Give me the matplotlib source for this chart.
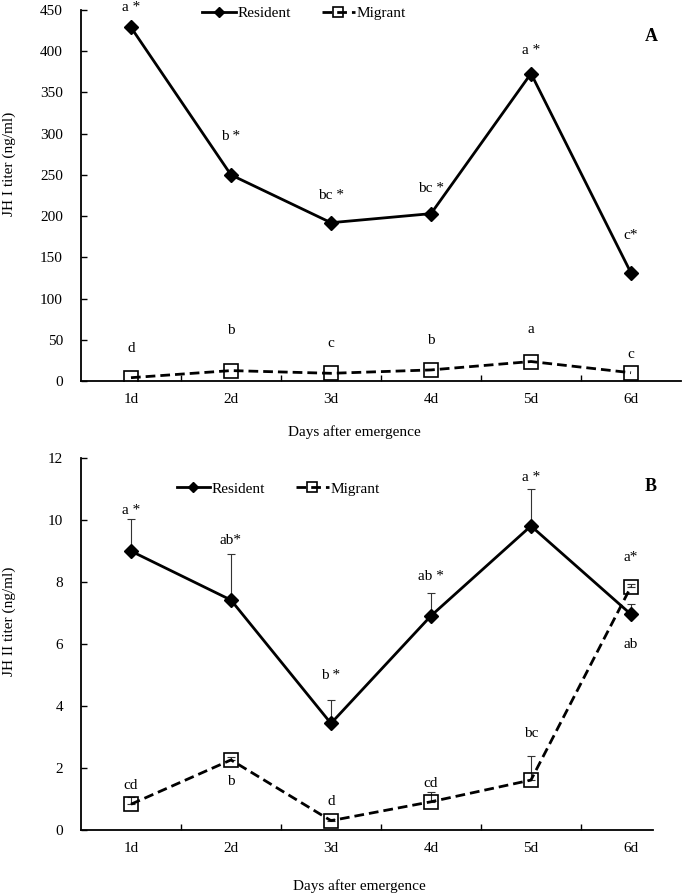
import numpy as np
from matplotlib import pyplot as plt
from matplotlib.ticker import FixedLocator

plt.rcParams["font.family"] = ["Liberation Serif", "DejaVu Serif"]
plt.rcParams["font.size"] = 11

days = ["1d", "2d", "3d", "4d", "5d", "6d"]

# panel A: JH I titer
jh1_resident = [429, 250, 192, 203, 373, 131]
jh1_migrant = [4, 12.6, 9.3, 13.4, 23.6, 10]
jh1_res_letters = ["a *", "b *", "bc *", "bc *", "a *", "c*"]
jh1_res_letter_y = [453, 296, 225, 233, 401, 177]
jh1_mig_letters = ["d", "b", "c", "b", "a", "c"]
jh1_mig_letter_y = [40, 61, 45, 49, 62, 32]

# panel B: JH II titer
jh2_resident = [9.0, 7.42, 3.44, 6.91, 9.81, 6.96]
jh2_resident_se = [1.03, 1.48, 0.75, 0.73, 1.19, 0.33]
jh2_migrant = [0.83, 2.26, 0.30, 0.91, 1.61, 7.85]
jh2_migrant_se = [0.22, 0.10, 0.05, 0.31, 0.78, 0.10]
jh2_res_letters = ["a *", "ab*", "b *", "ab *", "a *", "ab"]
jh2_res_letter_y = [10.3, 9.33, 5.0, 8.17, 11.38, 5.99]
jh2_mig_letters = ["cd", "b", "d", "cd", "bc", "a*"]
jh2_mig_letter_y = [1.42, 1.58, 0.91, 1.5, 3.1, 8.78]


def style_axis(ax, ymax, ystep, xmax):
    x = np.arange(1, len(days) + 1)
    ax.set_xlim(0.5, xmax)
    ax.set_ylim(0, ymax)
    ax.set_xticks(x)
    ax.set_xticklabels(days)
    ax.xaxis.set_minor_locator(FixedLocator(np.arange(1.5, len(days), 1.0)))
    ax.tick_params(axis="x", which="major", length=0, pad=9)
    ax.tick_params(axis="x", which="minor", length=4, width=1, direction="in")
    ax.set_yticks(np.arange(0, ymax + ystep / 2, ystep))
    ax.tick_params(axis="y", length=4, width=1, direction="in", pad=13)
    for s in ["top", "right"]:
        ax.spines[s].set_visible(False)
    for s in ["left", "bottom"]:
        ax.spines[s].set_linewidth(1.3)
    ax.set_xlabel("Days after emergence")


def draw_panel(ax, res, mig, res_err=None, mig_err=None):
    x = np.arange(1, len(days) + 1)
    if res_err is not None:
        ax.errorbar(x, res, yerr=[np.zeros(len(res)), res_err], fmt="none",
                    ecolor="#333333", elinewidth=0.8, capsize=3, capthick=0.8)
        ax.errorbar(x, mig, yerr=[np.zeros(len(mig)), mig_err], fmt="none",
                    ecolor="#333333", elinewidth=0.8, capsize=3, capthick=0.8)
    ax.plot(x, res, color="black", lw=2, marker="D", markersize=7,
            label="Resident", zorder=3)
    ax.plot(x, mig, color="black", lw=2, ls=(0, (3.5, 1.8)), marker="s",
            markersize=10, markerfacecolor="none", markeredgewidth=1.2,
            label="Migrant", zorder=3)


fig = plt.figure(figsize=(6.85, 8.96), dpi=100)

axA = fig.add_axes([0.1182, 0.5748, 0.876, 0.414])
draw_panel(axA, jh1_resident, jh1_migrant)
style_axis(axA, 450, 50, 6.5)
for i in range(len(days)):
    axA.text(i + 1, jh1_res_letter_y[i], jh1_res_letters[i], ha="center",
             va="center", clip_on=False)
    axA.text(i + 1, jh1_mig_letter_y[i], jh1_mig_letters[i], ha="center",
             va="center")
axA.text(6.2, 418, "A", fontsize=13, fontweight="bold", ha="center", va="center")
axA.set_ylabel("JH I titer (ng/ml)")
axA.yaxis.set_label_coords(-0.108, 0.585)
axA.xaxis.set_label_coords(0.455, -0.118)
axA.legend(loc="center", bbox_to_anchor=(0.372, 0.992), ncol=2, frameon=False,
           handlelength=2.2, handletextpad=0.1, columnspacing=2.0,
           markerscale=0.7, borderaxespad=0, borderpad=0)

axB = fig.add_axes([0.1182, 0.0737, 0.835, 0.415])
draw_panel(axB, jh2_resident, jh2_migrant, jh2_resident_se, jh2_migrant_se)
style_axis(axB, 12, 2, 6.22)
for i in range(len(days)):
    axB.text(i + 1, jh2_res_letter_y[i], jh2_res_letters[i], ha="center",
             va="center")
    axB.text(i + 1, jh2_mig_letter_y[i], jh2_mig_letters[i], ha="center",
             va="center")
axB.text(6.2, 11.1, "B", fontsize=13, fontweight="bold", ha="center", va="center")
axB.set_ylabel("JH II titer (ng/ml)")
axB.yaxis.set_label_coords(-0.114, 0.56)
axB.xaxis.set_label_coords(0.487, -0.132)
axB.legend(loc="center", bbox_to_anchor=(0.345, 0.9175), ncol=2, frameon=False,
           handlelength=2.2, handletextpad=0.1, columnspacing=2.0,
           markerscale=0.7, borderaxespad=0, borderpad=0)

plt.savefig("out.png", dpi=100)
plt.close("all")
